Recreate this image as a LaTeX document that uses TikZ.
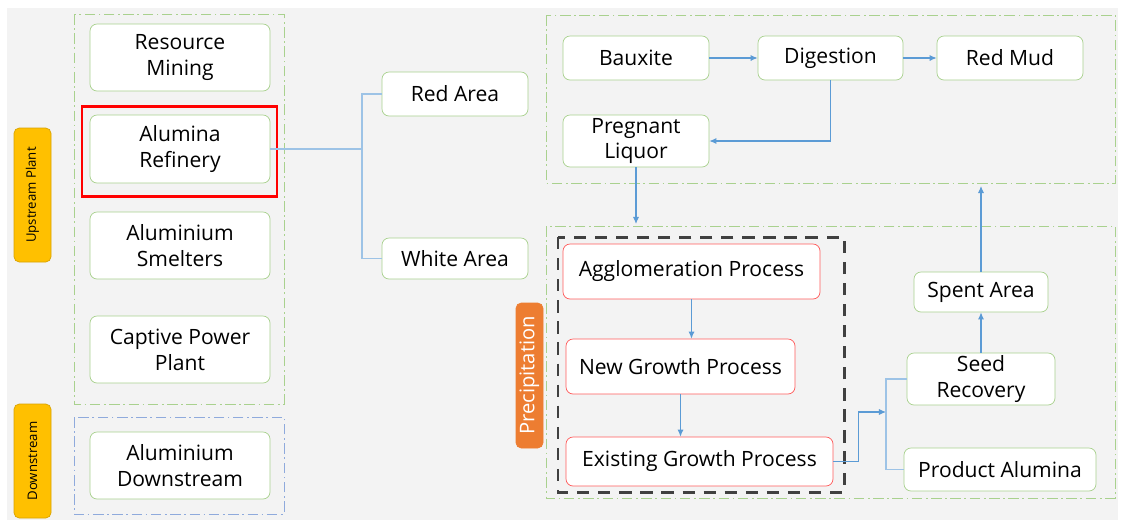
\documentclass[tikz,border=0pt]{standalone}
\usepackage{fontspec}
\setmainfont{Open Sans}
\usetikzlibrary{arrows.meta}

\definecolor{bggray}{HTML}{F3F3F3}
\definecolor{boxgreen}{HTML}{A9D18E}
\definecolor{procred}{HTML}{FF5B5B}
\definecolor{linkblue}{HTML}{9DC3E6}
\definecolor{arrowblue}{HTML}{5B9BD5}
\definecolor{tagyellow}{HTML}{FFC000}
\definecolor{tagorange}{HTML}{ED7D31}
\definecolor{dashgray}{HTML}{404040}
\definecolor{groupblue}{HTML}{8FAADC}

\tikzset{
  boxsize/.style 2 args={minimum width=#1*0.02cm, minimum height=#2*0.02cm},
  box/.style={draw=boxgreen, fill=white, rounded corners=4pt, align=center,
    inner sep=0pt, font=\fontsize{12}{14.7}\selectfont},
  procbox/.style={box, draw=procred},
  group/.style={draw=boxgreen, dash pattern=on 6pt off 2pt on 1pt off 2pt},
  tag/.style={fill=tagyellow, draw=tagyellow!85!black, rounded corners=3pt,
    rotate=90, inner sep=0pt, font=\fontsize{7.5}{9}\selectfont},
  link/.style={draw=linkblue, line width=0.6pt},
  flow/.style={draw=arrowblue, line width=0.6pt, -{Latex[length=4pt,width=3.5pt]}},
}

\begin{document}
\begin{tikzpicture}[x=0.02cm,y=-0.02cm]
  \useasboundingbox (0,0) rectangle (1123,522);
  \fill[bggray] (7,8) rectangle (1118,520);

  % groups
  \draw[group] (74,14) rectangle (284,404);
  \draw[group, draw=groupblue] (74,417) rectangle (284,514);
  \draw[group] (546,15) rectangle (1115,183);
  \draw[group] (546,226) rectangle (1115,498);
  \draw[dashgray, line width=1.7pt, dash pattern=on 7pt off 5pt] (558,237) rectangle (844,492);

  % side tags
  \node (upt) [tag, boxsize={134}{37}] at (32.5,195) {Upstream Plant};
  \node (dst) [tag, boxsize={114}{37}] at (32.5,461) {Downstream};
  \node (pre) [tag, fill=tagorange, draw=tagorange, text=white, boxsize={145}{27},
    font=\fontsize{11.5}{13}\selectfont] at (529.5,375.5) {Precipitation};

  % plant
  \node (mining) [box, boxsize={180}{67}] at (180,57.5) {Resource\\Mining};
  \node (refinery) [box, boxsize={180}{68}] at (180,149) {Alumina\\Refinery};
  \node (smelters) [box, boxsize={180}{67}] at (180,245.5) {Aluminium\\Smelters};
  \node (captive) [box, boxsize={180}{67}] at (180,349.5) {Captive Power\\Plant};
  \node (down) [box, boxsize={180}{67}] at (180,465.5) {Aluminium\\Downstream};
  \draw[red, line width=1.7pt] (82,106) rectangle (277,196);

  \node (redarea) [box, boxsize={146}{44}] at (455,94) {Red Area};
  \node (whitearea) [box, boxsize={146}{41}] at (455,258.5) {White Area};

  % digestion
  \node (bauxite) [box, boxsize={146}{44}] at (636,58) {Bauxite};
  \node (digestion) [box, boxsize={145}{44}] at (830.5,58) {Digestion};
  \node (redmud) [box, boxsize={146}{44}] at (1010,58) {Red Mud};
  \node (liquor) [box, boxsize={146}{52}] at (636,141) {Pregnant\\Liquor};

  % precipitation
  \node (agglom) [procbox, boxsize={257}{55}] at (691.5,271.5) {Agglomeration Process};
  \node (newgrowth) [procbox, boxsize={229}{55}] at (680.5,366.5) {New Growth Process};
  \node (existing) [procbox, boxsize={267}{49}] at (699.5,461.5) {Existing Growth Process};

  \node (spent) [box, boxsize={134}{40}] at (981,292) {Spent Area};
  \node (seed) [box, boxsize={148}{52}] at (981,379) {Seed\\Recovery};
  \node (product) [box, boxsize={192}{43}] at (1000,469.5) {Product Alumina};

  \coordinate (fork) at (362,149);
  \coordinate (precin) at (636,224);
  \coordinate (recycle) at (981,186);
  \coordinate (merge) at (886,412);

  \draw[link] (refinery.east) -- (fork);
  \draw[link] (redarea.west) -| (fork) |- (whitearea.west);

  \draw[flow] (bauxite) -- (digestion);
  \draw[flow] (digestion) -- (redmud);
  \draw[flow] (digestion.south) |- (liquor.east);
  \draw[flow] (liquor.south) -- (precin);

  \draw[flow] (agglom.south) -- (agglom.south |- newgrowth.north);
  \draw[flow] (newgrowth.south) -- (newgrowth.south |- existing.north);
  \draw[flow] (existing.east) -- ++(25,0) |- (merge);
  \draw[link] (seed.west) -| (merge) |- (product.west);
  \draw[flow] (seed) -- (spent);
  \draw[flow] (spent) -- (recycle);
\end{tikzpicture}
\end{document}
